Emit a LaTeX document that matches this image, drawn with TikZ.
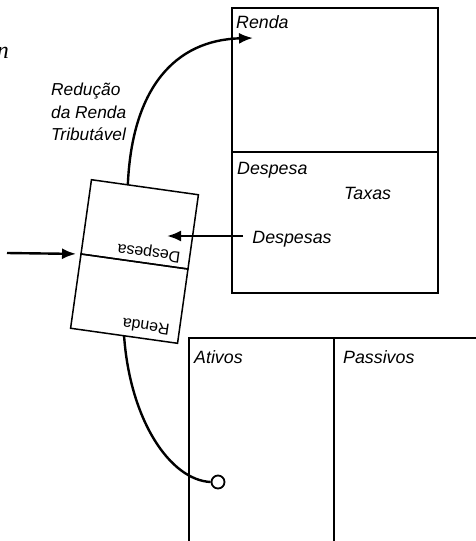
\documentclass[tikz,border=0pt]{standalone}
\usepackage{fontspec}
\setmainfont{Liberation Sans}
\newfontfamily\serifn{Liberation Serif}
\usetikzlibrary{arrows.meta,calc}
\begin{document}
\begin{tikzpicture}[x=1pt,y=-1pt,
  box/.style={draw, line width=1.5pt, inner sep=0pt, outer sep=0pt},
  lbl/.style={font=\fontsize{17.8}{22.5}\selectfont\itshape, inner sep=0pt, anchor=west},
  flip/.style={font=\fontsize{16}{18}\selectfont, inner sep=0pt, rotate=172},
  arr/.style={line width=2.4pt, -{Latex[length=14pt,width=11pt]}},
  curve/.style={line width=2.4pt}]
\useasboundingbox (0,0) rectangle (476,541);
\clip (0,0) rectangle (476,541);

% stray letter at left edge
\node[font=\serifn\itshape\fontsize{24}{24}\selectfont, inner sep=0pt, anchor=base east] (nn) at (9,58) {n};

% income statement
\node[box, minimum width=206pt, minimum height=144pt, anchor=north west] (rendabox) at (232,8) {};
\node[box, minimum width=206pt, minimum height=141pt, anchor=north west] (despbox) at (232,152) {};
\node[lbl] (lrenda) at (236,22) {Renda};
\node[lbl] (ldesp) at (237,170) {Despesa};
\node[lbl] (ltaxas) at (344,193) {Taxas};
\node[lbl, anchor=center] (despesas) at (292,239) {Despesas};

% balance sheet
\node[box, minimum width=145pt, minimum height=230pt, anchor=north west] (ativos) at (189,338) {};
\node[box, minimum width=160pt, minimum height=230pt, anchor=north west] (passivos) at (334,338) {};
\node[lbl] (lativos) at (194,357) {Ativos};
\node[lbl] (lpassivos) at (343,357) {Passivos};

% tilted card
\coordinate (mid) at (134.5,261.5);
\node[box, minimum width=108pt, minimum height=75pt, rotate=-8, anchor=south] (tup) at (mid) {};
\node[box, minimum width=108pt, minimum height=75pt, rotate=-8, anchor=north] (tlow) at (mid) {};
\node[flip] (fdesp) at (149,252) {Despesa};
\node[flip] (frenda) at (146,327) {Renda};

% label
\node[lbl, font=\fontsize{17.3}{22.5}\selectfont\itshape, anchor=north west, align=left] (red) at (51,83) {Redução\\da Renda\\Tributável};

% connectors
\coordinate (inl) at (7,253);
\draw[arr, shorten >=5pt] (inl) -- (tup.south west);
\coordinate (dtip) at (167,236);
\draw[arr, shorten <=9pt] (despesas.west |- dtip) -- (dtip);
\coordinate (rtip) at (253,38);
\draw[arr] ($(tup.north west)!0.34!(tup.north east)$) .. controls (132,88) and (175,40) .. (rtip);
\node[draw, circle, line width=1.8pt, minimum size=13pt, inner sep=0pt, fill=white] (dot) at (218,482) {};
\draw[curve] (tlow.south) .. controls (130,420) and (170,480) .. (dot.west);
\end{tikzpicture}
\end{document}
